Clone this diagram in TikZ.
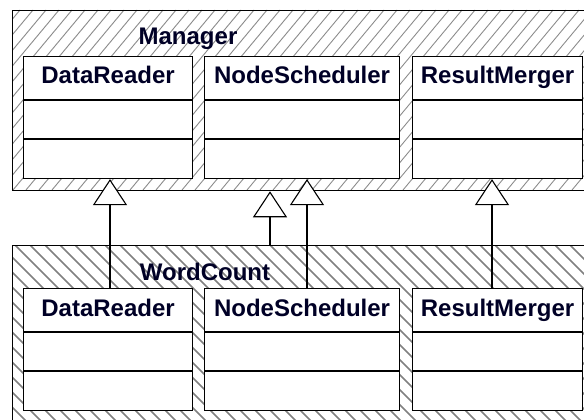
\documentclass[tikz,border=0pt]{standalone}
\usepackage{fontspec}
\setmainfont{Liberation Sans}
\usetikzlibrary{arrows.meta,calc}

\tikzset{
  pkg/.style={draw=black, line width=1.3pt, rectangle, anchor=north west, inner sep=0pt},
  cls/.style={draw=black, line width=1.1pt, fill=white, rectangle, anchor=north west, inner sep=0pt},
  divider/.style={draw=black, line width=1.1pt},
  title/.style={font=\bfseries\fontsize{24}{24}\selectfont, text=black!85!blue, inner sep=0pt, anchor=base},
  hatchA/.style={draw=black!45, line width=0.9pt},
  hatchB/.style={draw=black!50, line width=1.6pt},
  gen/.style={draw=black, line width=1.1pt, -{Triangle[length=26pt, width=34pt, fill=white]}},
}

% one UML class: name, left x, right x, top y, label
\newcommand{\umlcls}[5]{%
  \node[cls, minimum width=#3pt-#2pt, minimum height=122pt] (#1) at (#2,#4) {};
  \draw[divider] ($(#1.north west)+(0,44)$) -- ($(#1.north east)+(0,44)$);
  \draw[divider] ($(#1.north west)+(0,83)$) -- ($(#1.north east)+(0,83)$);
  \node[title] (#1-t) at ($(#1.north)+(0,28)$) {#5};
}

\begin{document}
\begin{tikzpicture}[x=1pt, y=-1pt]
  \useasboundingbox (0,0) rectangle (584,420);
  \clip (0,0) rectangle (584,420);

  % package hatching
  \begin{scope}
    \clip (12,10) rectangle (640,190);
    \foreach \i in {-20,...,60} {
      \draw[hatchA] (\i*13,190) -- (\i*13+150,10);
    }
  \end{scope}
  \begin{scope}
    \clip (12,245) rectangle (640,440);
    \foreach \i in {-20,...,60} {
      \draw[hatchB] (\i*15,245) -- (\i*15+195,440);
    }
  \end{scope}

  % packages
  \node[pkg, minimum width=628pt, minimum height=180pt] (mgr) at (12,10) {};
  \node[pkg, minimum width=628pt, minimum height=200pt] (wc) at (12,245) {};
  \node[title] (mgr-t) at (188,45) {Manager};
  \node[title] (wc-t) at (205,280) {WordCount};

  % classes of Manager
  \umlcls{mdr}{23}{192}{56}{DataReader}
  \umlcls{mns}{204}{399}{56}{NodeScheduler}
  \umlcls{mrm}{412}{582}{56}{ResultMerger}

  % classes of WordCount
  \umlcls{wdr}{23}{192}{288}{DataReader}
  \umlcls{wns}{204}{399}{288}{NodeScheduler}
  \umlcls{wrm}{412}{582}{288}{ResultMerger}

  % generalizations
  \draw[gen] ($(wdr.north west)+(87,0)$) -- ($(mdr.south west)+(87,0)$);
  \draw[gen] ($(wns.north west)+(103,0)$) -- ($(mns.south west)+(103,0)$);
  \draw[gen] ($(wrm.north west)+(80,0)$) -- ($(mrm.south west)+(80,0)$);
  \draw[gen] ($(wc.north west)+(258,0)$) -- ($(mgr.south west)+(258,0)$);
\end{tikzpicture}
\end{document}
